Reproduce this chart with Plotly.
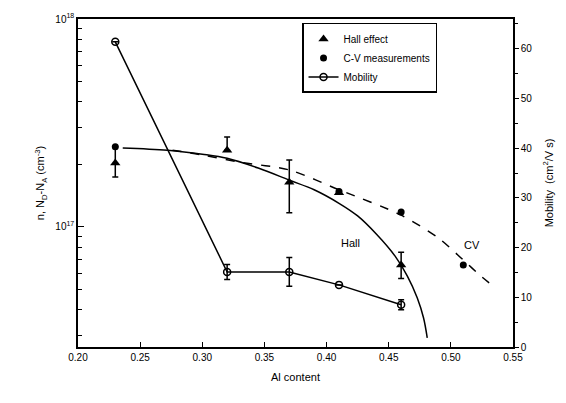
import plotly.graph_objects as go

# Data
hall_x = [0.23, 0.32, 0.37, 0.41, 0.46]
hall_y = [2.03e17, 2.34e17, 1.64e17, 1.46e17, 6.56e16]
hall_err_plus = [0.40e17, 0.37e17, 0.46e17, 0.0, 1.0e16]
hall_err_minus = [0.29e17, 0.0, 0.47e17, 0.0, 0.9e16]

cv_x = [0.23, 0.41, 0.46, 0.51]
cv_y = [2.43e17, 1.48e17, 1.18e17, 6.56e16]

mob_x = [0.23, 0.32, 0.37, 0.41, 0.46]
mob_y = [61.4, 15.1, 15.1, 12.5, 8.5]
mob_err = [0.0, 1.5, 2.9, 0.0, 1.0]

hall_fit_x = [0.236, 0.272, 0.30, 0.32, 0.345, 0.37, 0.39, 0.41, 0.425, 0.44, 0.455, 0.465, 0.473, 0.478, 0.481]
hall_fit_y = [2.40e17, 2.34e17, 2.24e17, 2.14e17, 1.92e17, 1.68e17, 1.51e17, 1.30e17,
              1.13e17, 9.25e16, 7.26e16, 5.81e16, 4.56e16, 3.66e16, 2.93e16]

cv_fit_x = [0.276, 0.30, 0.33, 0.37, 0.41, 0.46, 0.49, 0.51, 0.525, 0.536]
cv_fit_y = [2.34e17, 2.22e17, 2.05e17, 1.88e17, 1.51e17, 1.14e17, 8.85e16, 6.94e16, 5.75e16, 5.1e16]

x_ticks = [0.20, 0.25, 0.30, 0.35, 0.40, 0.45, 0.50, 0.55]
y_major = [1e17, 1e18]
y_major_text = ["10<sup>17</sup>", "10<sup>18</sup>"]
y_minor = [3e16, 4e16, 5e16, 6e16, 7e16, 8e16, 9e16,
           2e17, 3e17, 4e17, 5e17, 6e17, 7e17, 8e17, 9e17]

FONT = "Liberation Sans"

fig = go.Figure()

fig.add_trace(go.Scatter(
    x=hall_fit_x, y=hall_fit_y, mode="lines",
    line=dict(color="black", width=1.5, shape="spline", smoothing=1.0),
    showlegend=False, hoverinfo="skip"))
fig.add_trace(go.Scatter(
    x=cv_fit_x, y=cv_fit_y, mode="lines",
    line=dict(color="black", width=1.5, dash="dash", shape="spline", smoothing=0.8),
    showlegend=False, hoverinfo="skip"))

fig.add_trace(go.Scatter(
    x=hall_x, y=hall_y, mode="markers", name="Hall effect",
    marker=dict(symbol="triangle-up", size=9, color="black"),
    error_y=dict(type="data", symmetric=False, array=hall_err_plus, arrayminus=hall_err_minus,
                 color="black", thickness=1.5, width=3)))
fig.add_trace(go.Scatter(
    x=cv_x, y=cv_y, mode="markers", name="C-V measurements",
    marker=dict(symbol="circle", size=7, color="black")))
fig.add_trace(go.Scatter(
    x=mob_x, y=mob_y, mode="lines+markers", name="Mobility", yaxis="y2",
    line=dict(color="black", width=1.5),
    marker=dict(symbol="circle-open", size=7, color="black", line=dict(width=1.5)),
    error_y=dict(type="data", array=mob_err, color="black", thickness=1.5, width=3)))

fig.add_annotation(x=0.419, y=16.923, text="Hall", showarrow=False,
                   font=dict(family=FONT, size=11, color="black"))
fig.add_annotation(x=0.517, y=16.913, text="CV", showarrow=False,
                   font=dict(family=FONT, size=11, color="black"))

fig.update_layout(
    width=566, height=403,
    margin=dict(l=78, r=49, t=19, b=56),
    paper_bgcolor="white", plot_bgcolor="white",
    font=dict(family=FONT, size=10, color="black"),
    xaxis=dict(range=[0.20, 0.55], tickvals=x_ticks, ticktext=[f"{v:.2f}" for v in x_ticks],
               ticks="inside", ticklen=5, tickcolor="black", showline=True, linecolor="black",
               linewidth=1.5, mirror=True, showgrid=False, zeroline=False,
               title=dict(text="Al content", font=dict(size=11), standoff=12)),
    yaxis=dict(type="log", range=[16.423, 18.0], tickvals=y_major, ticktext=y_major_text,
               ticks="inside", ticklen=6, tickcolor="black",
               minor=dict(tickvals=y_minor, ticks="inside", ticklen=4, tickcolor="black"),
               showline=True, linecolor="black", linewidth=1.5, showgrid=False, zeroline=False,
               title=dict(text="n, N<sub>D</sub>-N<sub>A</sub> (cm<sup>-3</sup>)", font=dict(size=11), standoff=8)),
    yaxis2=dict(overlaying="y", side="right", range=[0, 66], tickvals=[0, 10, 20, 30, 40, 50, 60],
                ticks="outside", ticklen=4, tickcolor="black",
                minor=dict(tickvals=[5, 15, 25, 35, 45, 55, 65], ticks="outside", ticklen=3, tickcolor="black"),
                showline=True, linecolor="black", linewidth=1.5, showgrid=False, zeroline=False,
                title=dict(text="Mobility  (cm<sup>2</sup>/V s)", font=dict(size=11), standoff=14)),
    legend=dict(x=0.515, y=0.988, xanchor="left", yanchor="top", bordercolor="black", borderwidth=1.5,
                bgcolor="white", font=dict(size=10), itemwidth=30, tracegroupgap=0),
    showlegend=True,
)

fig.write_html("out.html")
